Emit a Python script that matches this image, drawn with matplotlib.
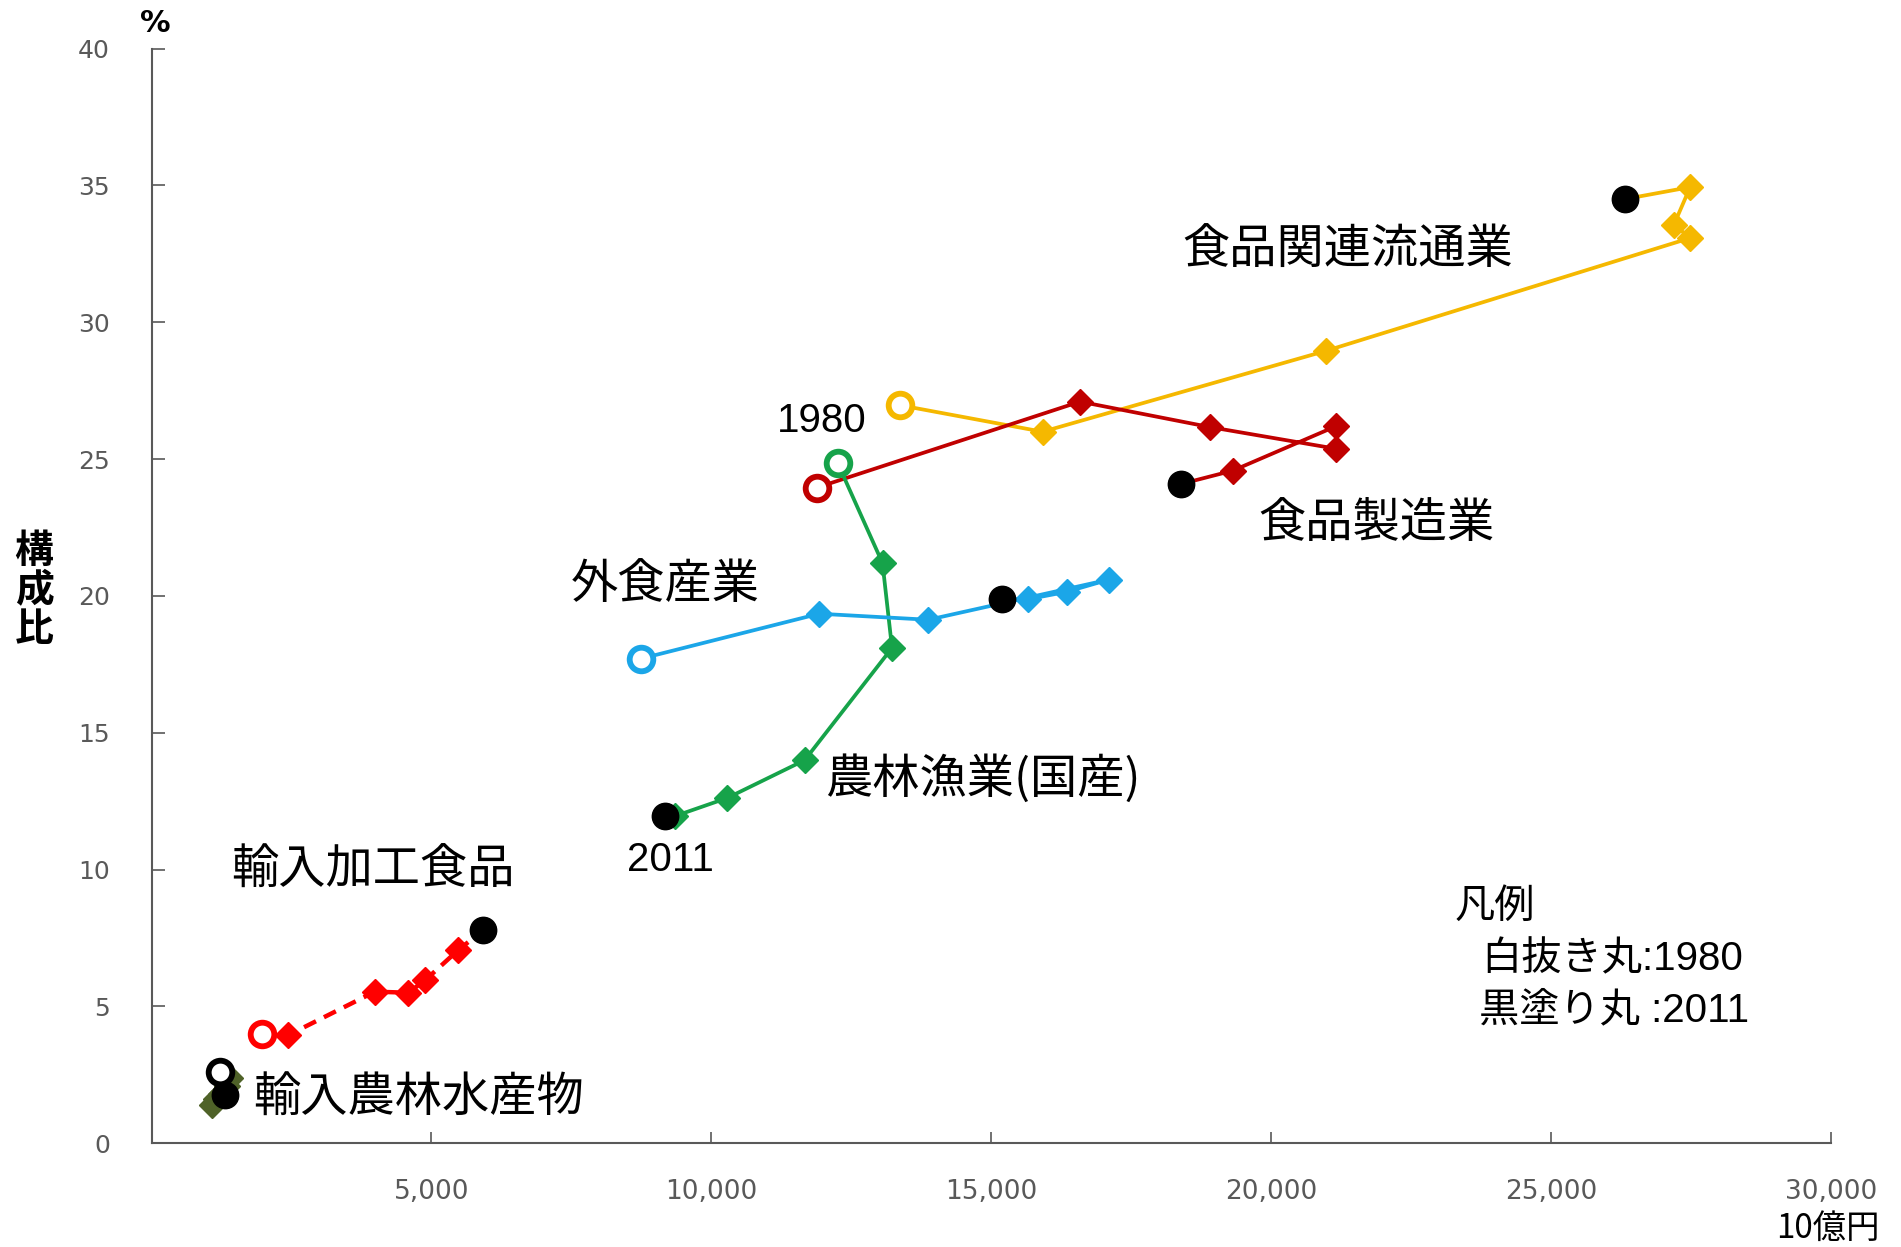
import matplotlib
matplotlib.use('Agg')
import matplotlib.pyplot as plt
from matplotlib.ticker import FuncFormatter

plt.rcParams['font.family'] = ['Noto Sans CJK JP', 'DejaVu Sans']

# 1980, 1985, 1990, 1995, 2000, 2005, 2011 (10億円, %)
ryutsu_x = [13370, 15920, 20990, 27490, 27200, 27490, 26320]
ryutsu_y = [26.97, 26.0, 28.96, 33.08, 33.57, 34.94, 34.5]
seizo_x = [11890, 16590, 18910, 21160, 21160, 19320, 18390]
seizo_y = [23.96, 27.1, 26.17, 25.38, 26.2, 24.58, 24.09]
nourin_x = [12260, 13060, 13230, 11670, 10290, 9360, 9180]
nourin_y = [24.85, 21.2, 18.1, 14.0, 12.62, 11.96, 11.96]
gaishoku_x = [8750, 11930, 13880, 17110, 16350, 15660, 15200]
gaishoku_y = [17.71, 19.35, 19.13, 20.6, 20.15, 19.88, 19.88]
kakou_x = [1966, 2443, 3992, 4588, 4885, 5480, 5929]
kakou_y = [4.01, 3.95, 5.54, 5.5, 5.95, 7.06, 7.79]
yunyu_x = [1220, 1400, 1350, 1250, 1150, 1080, 1320]
yunyu_y = [2.6, 2.4, 2.1, 1.8, 1.6, 1.4, 1.75]

series = [
    (ryutsu_x, ryutsu_y, '#F5B800', '-', '#F5B800'),
    (seizo_x, seizo_y, '#C00000', '-', '#C00000'),
    (nourin_x, nourin_y, '#16A34A', '-', '#16A34A'),
    (gaishoku_x, gaishoku_y, '#1BA6E8', '-', '#1BA6E8'),
    (kakou_x, kakou_y, '#FF0000', '--', '#FF0000'),
    (yunyu_x, yunyu_y, '#4F6228', '-', '#000000'),
]

labels = [
    ('食品関連流通業', 21380, 32.6),
    ('食品製造業', 21880, 22.63),
    ('外食産業', 9180, 20.42),
    ('農林漁業(国産)', 14860, 13.29),
    ('輸入加工食品', 3964, 9.96),
    ('輸入農林水産物', 4765, 1.64),
]

fig = plt.figure(figsize=(19.01, 12.47), dpi=100, facecolor='white')
ax = fig.add_axes([0.0797, 0.0832, 0.8833, 0.8778])

for xs, ys, col, ls, ring in series:
    ax.plot(xs, ys, color=col, linestyle=ls, linewidth=2.7 if ls == '-' else 3.2,
            dashes=(3, 2) if ls == '--' else (None, None), zorder=2)
    ax.plot(xs[1:-1], ys[1:-1], linestyle='none', marker='D', markersize=13,
            color=col, markeredgecolor=col, zorder=3)
    # 1980: 白抜き丸
    ax.plot(xs[0], ys[0], marker='o', markersize=17, markerfacecolor='white',
            markeredgecolor=ring, markeredgewidth=4.2, zorder=4)
    # 2011: 黒塗り丸
    ax.plot(xs[-1], ys[-1], marker='o', markersize=19, color='black', zorder=4)

for txt, x, y in labels:
    ax.text(x, y, txt, fontsize=34, ha='center', va='center', color='black')

num_font = ['Liberation Sans', 'Noto Sans CJK JP']
ax.text(11980, 26.4, '1980', fontsize=29, ha='center', va='center', family=num_font)
ax.text(9270, 10.36, '2011', fontsize=29, ha='center', va='center', family=num_font)

# 凡例 (text)
ax.text(23285, 8.64, '凡例', fontsize=29, ha='left', va='center')
ax.text(23760, 6.73, '白抜き丸:1980', fontsize=29, ha='left', va='center', family=num_font)
ax.text(23720, 4.87, '黒塗り丸 :2011', fontsize=29, ha='left', va='center', family=num_font)

ax.set_xlim(0, 30000)
ax.set_ylim(0, 40)
ax.set_xticks([5000, 10000, 15000, 20000, 25000, 30000])
ax.set_yticks(range(0, 41, 5))
ax.xaxis.set_major_formatter(FuncFormatter(lambda v, p: f'{int(v):,}'))

for s in ['top', 'right']:
    ax.spines[s].set_visible(False)
for s in ['left', 'bottom']:
    ax.spines[s].set_color('#595959')
    ax.spines[s].set_linewidth(1.5)

ax.tick_params(axis='y', direction='in', length=9, width=1.2, color='#595959',
               pad=30, labelsize=18, labelcolor='#595959')
ax.tick_params(axis='x', direction='in', length=8, width=1.2, color='#595959',
               pad=26, labelsize=19, labelcolor='#595959')
for lab in ax.get_xticklabels() + ax.get_yticklabels():
    lab.set_family(['DejaVu Sans'])

fig.text(155 / 1901, 1 - 24 / 1247, '%', fontsize=22, fontweight='bold',
         ha='center', va='center', family=['DejaVu Sans'])
fig.text(34 / 1901, 1 - 590 / 1247, '構\n成\n比', fontsize=28, fontweight='bold',
         ha='center', va='center', linespacing=1.0)
fig.text(1880 / 1901, 1 - 1228 / 1247, '10億円', fontsize=24, ha='right', va='center')

fig.savefig('out.png', dpi=100, facecolor='white')
